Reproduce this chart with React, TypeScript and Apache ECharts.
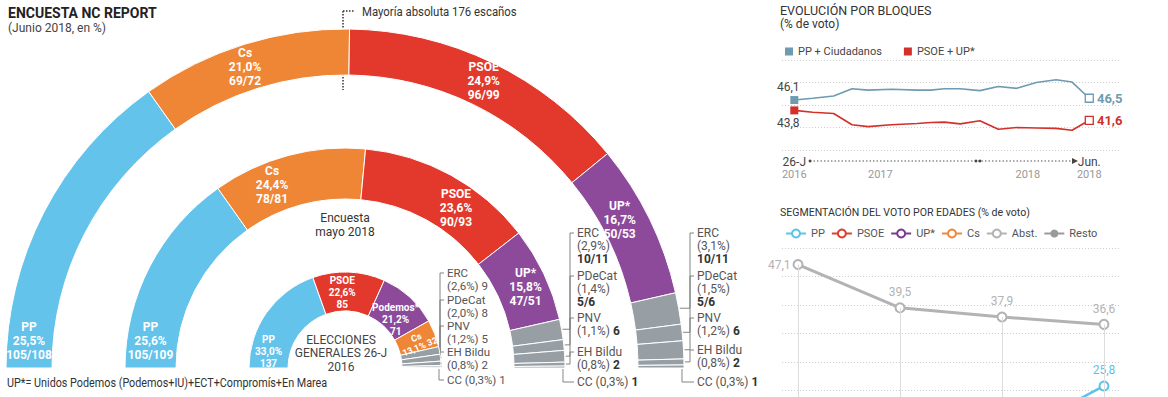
import React, { useEffect, useRef } from 'react';
import * as echarts from 'echarts';

const FONT = 'Roboto, "Noto Sans", sans-serif';

// ---------- Parliament rings ----------
const outerNames = ['PP', 'Cs', 'PSOE', 'UP*', 'ERC', 'PDeCat', 'PNV', 'EH Bildu', 'CC'];
const outerPct = [25.5, 21.0, 24.9, 16.7, 3.1, 1.5, 1.2, 0.8, 0.3];
const outerSeatsMin = [105, 69, 96, 50, 10, 5, 6, 2, 1];
const outerSeatsMax = [108, 72, 99, 53, 11, 6, 6, 2, 1];

const midNames = ['PP', 'Cs', 'PSOE', 'UP*', 'ERC', 'PDeCat', 'PNV', 'EH Bildu', 'CC'];
const midPct = [25.6, 24.4, 23.6, 15.8, 2.9, 1.4, 1.1, 0.8, 0.3];
const midSeatsMin = [105, 78, 90, 47, 10, 5, 6, 2, 1];
const midSeatsMax = [109, 81, 93, 51, 11, 6, 6, 2, 1];

const innerNames = ['PP', 'PSOE', 'Podemos*', 'Cs', 'ERC', 'PDeCat', 'PNV', 'EH Bildu', 'CC'];
const innerPct = [33.0, 22.6, 21.2, 13.1, 2.6, 2.0, 1.2, 0.8, 0.3];
const innerSeats = [137, 85, 71, 32, 9, 8, 5, 2, 1];

const partyColors: Record<string, string> = {
  PP: '#63c3ea',
  Cs: '#ef8636',
  PSOE: '#e3382c',
  'UP*': '#8d4a9b',
  'Podemos*': '#8d4a9b',
};
const GRAY = '#979fa5';

// ---------- Evolución por bloques ----------
const blocMonths = [0, 1.5, 3.2, 4.7, 6.0, 7.9, 10.0, 11.1, 12.2, 13.5, 15.1, 16.6, 18.1, 19.7, 21.3, 22.6, 24];
const ppCs = [46.1, 46.5, 47.0, 48.6, 48.3, 48.5, 48.3, 48.3, 48.6, 48.6, 48.2, 49.1, 48.7, 50.0, 50.6, 50.1, 46.5];
const psoeUp = [43.8, 43.4, 43.1, 40.6, 40.2, 40.6, 40.9, 41.1, 41.2, 40.8, 41.5, 39.6, 40.0, 39.9, 39.8, 39.4, 41.6];
const blocTickValues = [0, 7, 19, 24];
const blocTickTop = ['26-J', '', '', 'Jun.'];
const blocTickBottom = ['2016', '2017', '2018', '2018'];

// ---------- Segmentación por edades ----------
const ageAbst = [47.1, 39.5, 37.9, 36.6];
const agePP: (number | null)[] = [null, null, 16.3, 25.8];

const fmt = (v: any) => (typeof v === 'number' ? v.toFixed(1).replace('.', ',') : '');
const seatStr = (a: number, b: number) => (a === b ? `${a}` : `${a}/${b}`);

const CX = 345;
const CY = 368;

function midAngles(vals: number[]) {
  const total = vals.reduce((s, v) => s + v, 0);
  let cum = 0;
  return vals.map((v) => {
    const a = ((cum + v / 2) / total) * 180;
    cum += v;
    return a;
  });
}
function polar(r: number, deg: number) {
  const t = (deg * Math.PI) / 180;
  return [CX - r * Math.cos(t), CY - r * Math.sin(t)];
}

function ringSeries(
  names: string[],
  pct: number[],
  smin: number[],
  smax: number[],
  r0: number,
  r1: number,
  fontSize: number,
  labelDy: number,
  nudges: number[][]
) {
  const vals = smin.map((a, i) => (a + smax[i]) / 2);
  const total = vals.reduce((s, v) => s + v, 0);
  const small = fontSize < 11;
  const data: any[] = names.map((n, i) => {
    const lbl: any = { show: !!partyColors[n] };
    if (small && n === 'Cs') {
      lbl.fontSize = 9;
      lbl.lineHeight = 10;
    }
    return {
      name: n,
      value: vals[i],
      itemStyle: { color: partyColors[n] || GRAY },
      label: lbl,
    };
  });
  data.push({
    name: '',
    value: total,
    itemStyle: { color: 'rgba(0,0,0,0)', borderWidth: 0 },
    label: { show: false },
  });
  return {
    type: 'pie',
    center: [CX, CY],
    radius: [r0, r1],
    startAngle: 180,
    clockwise: true,
    silent: true,
    avoidLabelOverlap: false,
    itemStyle: { borderColor: '#fff', borderWidth: 1 },
    label: {
      position: 'inside',
      color: '#fff',
      fontWeight: 'bold',
      fontFamily: FONT,
      fontSize,
      lineHeight: fontSize + 2,
      formatter: (p: any) => {
        const i = p.dataIndex;
        if (i >= names.length) return '';
        const s = seatStr(smin[i], smax[i]);
        if (names[i] === 'Cs' && small) return `Cs\n${fmt(pct[i])}% ${s}`;
        return `${names[i]}\n${fmt(pct[i])}%\n${s}`;
      },
    },
    labelLine: { show: false },
    labelLayout: (p: any) => {
      const i = p.dataIndex;
      if (i === 0) return { x: CX - (r0 + r1) / 2, y: CY - labelDy, align: 'center', verticalAlign: 'middle' };
      const n = nudges[i];
      if (!n) return {};
      const o: any = { dx: n[0], dy: n[1] };
      if (n[2]) o.rotate = n[2];
      return o;
    },
    data,
  };
}

function annotations(
  names: string[],
  pct: number[],
  smin: number[],
  smax: number[],
  rOuter: number,
  textX: number,
  ys: number[],
  modes: number[],
  boldSeats: boolean,
  fontSize: number
) {
  const vals = smin.map((a, i) => (a + smax[i]) / 2);
  const angles = midAngles(vals);
  const els: any[] = [];
  const LH = 13;
  for (let k = 0; k < 5; k++) {
    const i = 4 + k;
    const s = seatStr(smin[i], smax[i]);
    const seat = boldSeats ? `{b|${s}}` : s;
    const mode = modes[k];
    let txt = '';
    if (mode === 3) txt = `${names[i]}\n(${fmt(pct[i])}%)\n${seat}`;
    else if (mode === 2) txt = `${names[i]}\n(${fmt(pct[i])}%) ${seat}`;
    else txt = `${names[i]} (${fmt(pct[i])}%) ${seat}`;
    const y = ys[k];
    els.push({
      type: 'text',
      x: textX,
      y: y - LH / 2,
      silent: true,
      style: {
        text: txt,
        fill: '#555',
        fontFamily: FONT,
        fontSize,
        lineHeight: LH,
        verticalAlign: 'top',
        rich: { b: { fontWeight: 'bold', fill: '#333', fontSize, lineHeight: LH, fontFamily: FONT } },
      },
    });
    const [ex, ey] = polar(rOuter + 1, angles[i]);
    const xt = textX - 3;
    let pts: number[][];
    if (y < ey - 6) {
      pts = [
        [xt, y],
        [xt - 4, y],
        [xt - 4, ey],
        [ex, ey],
      ];
    } else if (y > ey + 6) {
      pts = [
        [xt, y],
        [ex - 3, y],
        [ex - 3, CY + 1],
      ];
    } else {
      pts = [
        [xt, y],
        [ex, ey],
      ];
    }
    els.push({
      type: 'polyline',
      silent: true,
      shape: { points: pts },
      style: { stroke: '#777', lineWidth: 0.9, fill: null },
    });
  }
  return els;
}

function blocSeries(name: string, vals: number[], color: string, firstPos: string) {
  const last = vals.length - 1;
  return {
    type: 'line',
    name,
    xAxisIndex: 0,
    yAxisIndex: 0,
    symbol: 'rect',
    symbolSize: 8,
    showAllSymbol: true,
    lineStyle: { color, width: 1.6 },
    itemStyle: { color },
    data: vals.map((v, i) => {
      const d: any = { value: [blocMonths[i], v] };
      if (i === 0) {
        d.itemStyle = { color };
        d.label = {
          show: true,
          position: firstPos,
          offset: [-6, 0],
          distance: 3,
          color: '#444',
          fontSize: 12,
          fontFamily: FONT,
          formatter: () => fmt(v),
        };
      } else if (i === last) {
        d.itemStyle = { color: '#fff', borderColor: color, borderWidth: 1.3 };
        d.label = {
          show: true,
          position: 'right',
          distance: 3,
          color,
          fontWeight: 'bold',
          fontSize: 13,
          fontFamily: FONT,
          formatter: () => fmt(v),
        };
      } else {
        d.symbol = 'none';
      }
      return d;
    }),
  };
}

function ageSeries(
  name: string,
  vals: (number | null)[],
  color: string,
  width: number,
  firstLabelLeft: boolean,
  onlyLastLabel: boolean
) {
  const last = vals.length - 1;
  return {
    type: 'line',
    name,
    xAxisIndex: 1,
    yAxisIndex: 1,
    symbol: 'emptyCircle',
    symbolSize: 9,
    showAllSymbol: true,
    lineStyle: { color, width },
    itemStyle: { color, borderWidth: 1.6 },
    label: {
      show: true,
      position: 'top',
      distance: 4,
      color,
      fontSize: 12,
      fontFamily: FONT,
      formatter: (p: any) => fmt(p && p.value ? p.value[1] : null),
    },
    data: vals.map((v, i) => {
      if (i === 0 && firstLabelLeft) return { value: [i, v], label: { position: 'left', distance: 2 } };
      if (onlyLastLabel && i !== last) return { value: [i, v], label: { show: false } };
      return { value: [i, v] };
    }),
  };
}

export default function App() {
  const ref = useRef<HTMLDivElement>(null);
  useEffect(() => {
    if (!ref.current) return;
    const chart = echarts.init(ref.current, null, { renderer: 'svg' });

    const gridLine = { show: true, lineStyle: { color: '#cfcfcf', type: [1, 2], width: 1 } };

    const graphic: any[] = [
      {
        type: 'text',
        x: 8,
        y: 6,
        style: { text: 'ENCUESTA NC REPORT', fill: '#222', fontFamily: FONT, fontWeight: 'bold', fontSize: 14 },
      },
      {
        type: 'text',
        x: 8,
        y: 22,
        style: { text: '(Junio 2018, en %)', fill: '#444', fontFamily: FONT, fontSize: 12 },
      },
      {
        type: 'line',
        shape: { x1: 343, y1: 11, x2: 343, y2: 90 },
        style: { stroke: '#333', lineWidth: 1.5, lineDash: [1.5, 1.5] },
      },
      {
        type: 'line',
        shape: { x1: 343, y1: 11, x2: 355, y2: 11 },
        style: { stroke: '#333', lineWidth: 1.5, lineDash: [1.5, 1.5] },
      },
      {
        type: 'text',
        x: 362,
        y: 5,
        scaleX: 0.91,
        style: { text: 'Mayoría absoluta 176 escaños', fill: '#333', fontFamily: FONT, fontSize: 12.5 },
      },
      {
        type: 'text',
        x: 345,
        y: 211,
        style: {
          text: 'Encuesta\nmayo 2018',
          fill: '#333',
          fontFamily: FONT,
          fontSize: 12,
          lineHeight: 14,
          align: 'center',
        },
      },
      {
        type: 'text',
        x: 341,
        y: 333,
        style: {
          text: 'ELECCIONES\nGENERALES 26-J\n2016',
          fill: '#444',
          fontFamily: FONT,
          fontSize: 12,
          lineHeight: 13.5,
          align: 'center',
        },
      },
      {
        type: 'text',
        x: 7,
        y: 377,
        scaleX: 0.9,
        style: {
          text: 'UP*= Unidos Podemos (Podemos+IU)+ECT+Compromís+En Marea',
          fill: '#333',
          fontFamily: FONT,
          fontSize: 12,
        },
      },
      {
        type: 'text',
        x: 780,
        y: 4,
        style: { text: 'EVOLUCIÓN POR BLOQUES', fill: '#333', fontFamily: FONT, fontSize: 12.5 },
      },
      {
        type: 'text',
        x: 780,
        y: 18,
        style: { text: '(% de voto)', fill: '#333', fontFamily: FONT, fontSize: 12 },
      },
      {
        type: 'text',
        x: 780,
        y: 206,
        scaleX: 0.92,
        style: {
          text: 'SEGMENTACIÓN DEL VOTO POR EDADES (% de voto)',
          fill: '#333',
          fontFamily: FONT,
          fontSize: 11.5,
        },
      },
      {
        type: 'line',
        shape: { x1: 810, y1: 161, x2: 1073, y2: 161 },
        style: { stroke: '#555', lineWidth: 1, lineDash: [1.5, 2] },
      },
      {
        type: 'polygon',
        shape: { points: [[1072, 158], [1078, 161], [1072, 164]] },
        style: { fill: '#444' },
      },
      { type: 'circle', shape: { cx: 810, cy: 161, r: 1.4 }, style: { fill: '#444' } },
      { type: 'circle', shape: { cx: 976, cy: 161, r: 1.4 }, style: { fill: '#444' } },
      { type: 'circle', shape: { cx: 980, cy: 161, r: 1.4 }, style: { fill: '#444' } },
      ...annotations(innerNames, innerPct, innerSeats, innerSeats, 96, 447, [273, 300, 326, 352, 380], [2, 2, 2, 2, 1], false, 11.5),
      ...annotations(midNames, midPct, midSeatsMin, midSeatsMax, 220, 577, [233, 276, 318, 352, 382], [3, 3, 2, 2, 1], true, 12),
      ...annotations(outerNames, outerPct, outerSeatsMin, outerSeatsMax, 339, 697, [233, 276, 318, 350, 382], [3, 3, 2, 2, 1], true, 12),
    ];

    const option: any = {
      animation: false,
      backgroundColor: '#fff',
      textStyle: { fontFamily: FONT },
      legend: [
        {
          left: 780,
          top: 41,
          icon: 'rect',
          itemWidth: 8,
          itemHeight: 8,
          itemGap: 22,
          selectedMode: false,
          textStyle: { fontSize: 11, color: '#444', fontFamily: FONT },
          data: ['PP + Ciudadanos', 'PSOE + UP*'],
        },
        {
          left: 780,
          top: 223,
          itemWidth: 20,
          itemHeight: 10,
          itemGap: 6,
          selectedMode: false,
          textStyle: { fontSize: 11, color: '#555', fontFamily: FONT },
          data: ['PP', 'PSOE', 'UP*', 'Cs', 'Abst.', 'Resto'],
        },
      ],
      grid: [
        { left: 782, width: 338, top: 60, height: 90 },
        { left: 782, width: 338, top: 248, height: 285 },
      ],
      xAxis: [
        {
          gridIndex: 0,
          type: 'value',
          min: -1,
          max: 26.5,
          axisLine: { show: false },
          axisTick: { show: false },
          splitLine: { show: false },
          axisLabel: {
            customValues: blocTickValues,
            margin: 5,
            formatter: (v: number) => {
              const i = blocTickValues.indexOf(v);
              if (i < 0) return '';
              return `{a|${blocTickTop[i] || ' '}}\n{b|${blocTickBottom[i]}}`;
            },
            rich: {
              a: { fontSize: 12, color: '#444', lineHeight: 13, fontFamily: FONT },
              b: { fontSize: 11, color: '#999', lineHeight: 13, fontFamily: FONT },
            },
          },
        },
        {
          gridIndex: 1,
          type: 'value',
          min: -0.157,
          max: 3.157,
          axisLine: { show: false },
          axisTick: { show: false },
          axisLabel: { show: false },
          splitLine: { show: false },
        },
      ],
      yAxis: [
        {
          gridIndex: 0,
          type: 'value',
          min: 35,
          max: 55,
          interval: 5,
          axisLine: { show: false },
          axisTick: { show: false },
          axisLabel: { show: false },
          splitLine: gridLine,
        },
        {
          gridIndex: 1,
          type: 'value',
          min: 0,
          max: 50,
          interval: 5,
          axisLine: { show: false },
          axisTick: { show: false },
          axisLabel: { show: false },
          splitLine: gridLine,
        },
      ],
      series: [
        ringSeries(outerNames, outerPct, outerSeatsMin, outerSeatsMax, 293, 339, 12, 27, [
          [0, 0],
          [-5, 4],
          [0, 0],
          [-12, -8],
        ]),
        ringSeries(midNames, midPct, midSeatsMin, midSeatsMax, 169, 220, 12, 27, [
          [0, 0],
          [-22, 8],
          [16, 13],
          [2, 3],
        ]),
        ringSeries(innerNames, innerPct, innerSeats, innerSeats, 57, 96, 10, 17, [
          [0, 0],
          [-6, 4],
          [-3, 10],
          [-2, 2, 22],
        ]),
        blocSeries('PP + Ciudadanos', ppCs, '#6d9bb1', 'top'),
        blocSeries('PSOE + UP*', psoeUp, '#d3302a', 'bottom'),
        {
          ...ageSeries('Abst.', ageAbst, '#b3b3b3', 3, true, false),
          markLine: {
            silent: true,
            symbol: 'none',
            label: { show: false },
            lineStyle: { color: '#dcdcdc', type: 'solid', width: 1 },
            data: ageAbst.map((v, i) => [{ coord: [i, v] }, { coord: [i, 0] }]),
          },
          z: 3,
        },
        ageSeries('PP', agePP, '#5cc3ea', 2.5, false, true),
        { ...ageSeries('PSOE', [], '#d9402f', 2.5, false, false) },
        { ...ageSeries('UP*', [], '#7b3b8c', 2.5, false, false) },
        { ...ageSeries('Cs', [], '#f0883a', 2.5, false, false) },
        {
          ...ageSeries('Resto', [], '#9a9a9a', 2, false, false),
          symbol: 'circle',
          symbolSize: 5,
        },
      ],
      graphic,
    };
    chart.setOption(option);
    return () => chart.dispose();
  }, []);
  return (
    <div
      style={{
        position: 'absolute',
        left: 0,
        top: 0,
        width: 1168,
        height: 397,
        overflow: 'hidden',
        background: '#fff',
      }}
    >
      <div ref={ref} style={{ width: 1168, height: 540 }} />
    </div>
  );
}
